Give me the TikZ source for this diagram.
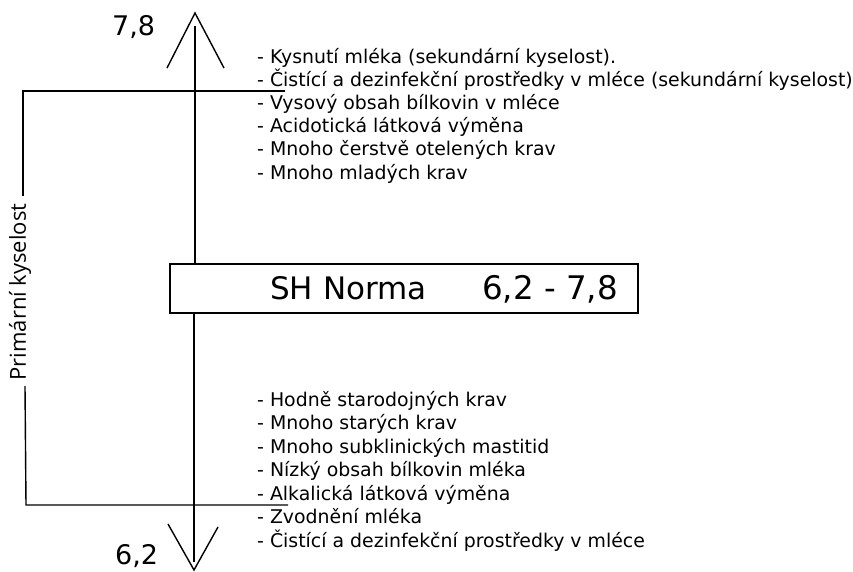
\documentclass[tikz,border=0pt]{standalone}
\usepackage{fontspec}
\setmainfont{DejaVu Sans}
\newfontfamily\sidefont{Open Sans}
\begin{document}
\begin{tikzpicture}[x=1pt,y=-1pt,
  ln/.style={line width=1.4pt, black},
  item/.style={anchor=base west, inner sep=0pt, font=\fontsize{18.9}{21}\selectfont},
  big/.style={anchor=base west, inner sep=0pt, font=\fontsize{31}{34}\selectfont},
  val/.style={anchor=base west, inner sep=0pt, font=\fontsize{27}{30}\selectfont}]
\useasboundingbox (0,0) rectangle (853,571);
% axis coordinates
\coordinate (topL) at (167,68);
\coordinate (topT) at (195,13);
\coordinate (topR) at (224,68);
\coordinate (axTop) at (195,26);
\coordinate (axB) at (194,323);
\coordinate (axBot) at (194,562);
\coordinate (botL) at (168,524);
\coordinate (botT) at (194,570);
\coordinate (botR) at (218,527);
% box
\node[draw, line width=1.4pt, minimum width=468pt, minimum height=49pt, inner sep=0pt] (box) at (404,288.5) {};
\node[big] (sh) at (270,299) {SH Norma};
\node[big, font=\fontsize{32.5}{35}\selectfont] (rng) at (482,299) {6,2 - 7,8};
% axis
\draw[ln] (axTop) -- (box.north -| axTop);
\draw[ln] (box.south -| axB) -- (axBot);
\draw[ln] (topL) -- (topT) -- (topR);
\draw[ln] (botL) -- (botT) -- (botR);
% end values
\node[val] (v78) at (112,35) {7,8};
\node[val] (v62) at (115,564) {6,2};
% bracket
\coordinate (h1a) at (23,91);
\coordinate (h1b) at (285,91);
\coordinate (h2a) at (26,505);
\coordinate (h2b) at (288,505);
\node[rotate=90, inner sep=0pt, font=\sidefont\fontsize{22}{25}\selectfont] (prim) at (20,292) {Primární kyselost};
\draw[ln] (h1b) -- (h1a) -- (23,196);
\draw[ln] (25,386) -- (h2a) -- (h2b);
% upper list
\node[item] (u1) at (257,63) {- Kysnutí mléka (sekundární kyselost).};
\node[item] (u2) at (257,86.2) {- Čistící a dezinfekční prostředky v mléce (sekundární kyselost)};
\node[item] (u3) at (257,109.4) {- Vysový obsah bílkovin v mléce};
\node[item] (u4) at (257,132.6) {- Acidotická látková výměna};
\node[item] (u5) at (257,155.8) {- Mnoho čerstvě otelených krav};
\node[item] (u6) at (257,179) {- Mnoho mladých krav};
% lower list
\node[item] (l1) at (257,406) {- Hodně starodojných krav};
\node[item] (l2) at (257,429.5) {- Mnoho starých krav};
\node[item] (l3) at (257,453) {- Mnoho subklinických mastitid};
\node[item] (l4) at (257,476.5) {- Nízký obsah bílkovin mléka};
\node[item] (l5) at (257,500) {- Alkalická látková výměna};
\node[item] (l6) at (257,523.5) {- Zvodnění mléka};
\node[item] (l7) at (257,547) {- Čistící a dezinfekční prostředky v mléce};
\end{tikzpicture}
\end{document}
